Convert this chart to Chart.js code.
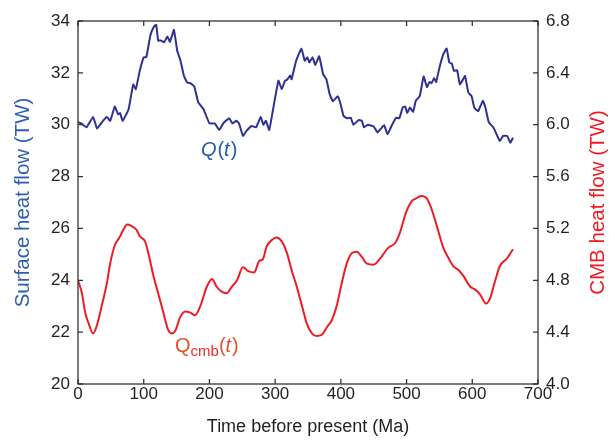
<!DOCTYPE html>
<html>
<head>
<meta charset="utf-8">
<script src="https://cdn.jsdelivr.net/npm/chart.js@4/dist/chart.umd.min.js"></script>
<style>
  html, body { margin: 0; padding: 0; background: #fff; }
  #wrap { width: 615px; height: 443px; position: relative; }
</style>
</head>
<body>
<div id="wrap"><canvas id="heat"></canvas></div>
<script>
// surface heat flow Q(t), left axis (TW)
const surfaceTime = [0, 5, 13, 23, 29, 38, 44, 49, 56, 61, 64, 68, 77, 84, 88, 94, 100, 104, 110, 115, 119, 122, 126, 131, 136, 140, 146, 151, 156, 161, 166, 171, 177, 183, 191, 200, 208, 215, 221, 230, 235, 241, 245, 251, 256, 264, 271, 278, 282, 286, 291, 296, 305, 310, 315, 318, 323, 325, 332, 340, 345, 349, 352, 357, 361, 367, 373, 378, 383, 388, 395, 399, 404, 409, 415, 419, 427, 432, 435, 441, 450, 456, 461, 466, 471, 478, 484, 489, 494, 498, 501, 505, 510, 514, 520, 526, 531, 535, 538, 542, 545, 550, 556, 561, 565, 569, 572, 577, 581, 586, 589, 594, 599, 603, 609, 616, 620, 625, 632, 637, 642, 647, 653, 658, 662];
const surfaceFlow = [30.1, 30.05, 29.9, 30.3, 29.85, 30.15, 30.3, 30.15, 30.7, 30.4, 30.45, 30.15, 30.6, 31.55, 31.37, 32.08, 32.6, 32.6, 33.43, 33.76, 33.85, 33.24, 33.25, 33.18, 33.4, 33.2, 33.66, 32.85, 32.47, 31.9, 31.63, 31.6, 31.47, 30.86, 30.6, 30.05, 30.05, 29.8, 30.05, 30.25, 30.05, 30.15, 30.05, 29.57, 29.75, 29.95, 29.9, 30.3, 30.0, 30.15, 29.8, 30.47, 31.7, 31.37, 31.7, 31.73, 31.9, 31.75, 32.47, 32.94, 32.47, 32.6, 32.4, 32.6, 32.3, 32.64, 31.95, 31.75, 31.18, 30.9, 31.1, 30.86, 30.34, 30.25, 30.27, 30.0, 30.18, 30.15, 29.9, 30.0, 29.93, 29.7, 29.85, 29.98, 29.63, 30.0, 30.27, 30.25, 30.66, 30.7, 30.45, 30.66, 30.5, 30.92, 31.1, 31.86, 31.45, 31.65, 31.6, 31.8, 31.65, 32.2, 32.72, 32.94, 32.4, 32.35, 32.08, 32.1, 31.56, 31.75, 31.88, 31.24, 31.1, 30.66, 30.52, 30.92, 30.66, 30.1, 29.9, 29.63, 29.37, 29.57, 29.57, 29.3, 29.5];

// core-mantle boundary heat flow Qcmb(t), right axis (TW)
const cmbTime = [0, 6, 11, 16, 23, 28, 36, 44, 49, 56, 63, 69, 75, 81, 89, 94, 102, 107, 115, 122, 130, 137, 143, 148, 155, 163, 171, 178, 186, 196, 204, 211, 219, 226, 234, 242, 251, 259, 268, 276, 281, 287, 295, 302, 310, 318, 325, 333, 341, 348, 356, 363, 371, 379, 386, 394, 401, 409, 417, 424, 432, 439, 450, 460, 472, 483, 490, 499, 508, 514, 522, 531, 538, 546, 556, 564, 571, 579, 587, 597, 604, 612, 621, 627, 635, 642, 653, 662];
const cmbFlow = [4.80, 4.70, 4.55, 4.47, 4.39, 4.44, 4.60, 4.78, 4.93, 5.07, 5.13, 5.19, 5.23, 5.22, 5.19, 5.14, 5.10, 5.01, 4.83, 4.70, 4.55, 4.42, 4.39, 4.41, 4.51, 4.56, 4.55, 4.53, 4.60, 4.75, 4.81, 4.75, 4.71, 4.70, 4.75, 4.80, 4.90, 4.87, 4.86, 4.95, 4.96, 5.06, 5.11, 5.13, 5.10, 5.01, 4.88, 4.75, 4.60, 4.47, 4.39, 4.37, 4.38, 4.44, 4.49, 4.61, 4.77, 4.93, 5.01, 5.02, 4.98, 4.93, 4.92, 4.97, 5.05, 5.09, 5.17, 5.32, 5.41, 5.43, 5.45, 5.43, 5.35, 5.22, 5.05, 4.97, 4.91, 4.88, 4.83, 4.75, 4.73, 4.69, 4.62, 4.66, 4.80, 4.91, 4.97, 5.04];

const FONT = '"Liberation Sans", Arial, Helvetica, sans-serif';
const INK = '#231f20';
Chart.defaults.font.family = FONT;

function toPoints(xs, ys) {
	return xs.map((x, i) => ({ x: x, y: ys[i] }));
}

// closed box with inward ticks, right title read upwards, curve labels
const framePlugin = {
	id: 'frame',
	afterDatasetsDraw(chart) {
		const { ctx, chartArea: a, scales } = chart;
		const len = 5;
		ctx.save();
		ctx.strokeStyle = '#333';
		ctx.lineWidth = 1.3;
		ctx.strokeRect(a.left, a.top, a.right - a.left, a.bottom - a.top);
		ctx.beginPath();
		scales.x.ticks.forEach((t) => {
			const px = scales.x.getPixelForValue(t.value);
			ctx.moveTo(px, a.bottom);
			ctx.lineTo(px, a.bottom - len);
			ctx.moveTo(px, a.top);
			ctx.lineTo(px, a.top + len);
		});
		scales.y.ticks.forEach((t) => {
			const py = scales.y.getPixelForValue(t.value);
			ctx.moveTo(a.left, py);
			ctx.lineTo(a.left + len, py);
		});
		scales.y1.ticks.forEach((t) => {
			const py = scales.y1.getPixelForValue(t.value);
			ctx.moveTo(a.right, py);
			ctx.lineTo(a.right - len, py);
		});
		ctx.stroke();

		// right axis title
		ctx.save();
		ctx.translate(scales.y1.right - 17, (a.top + a.bottom) / 2);
		ctx.rotate(-Math.PI / 2);
		ctx.textAlign = 'center';
		ctx.textBaseline = 'middle';
		ctx.fillStyle = '#ed1c24';
		ctx.font = '20.5px ' + FONT;
		ctx.fillText('CMB heat flow (TW)', 0, 0);
		ctx.restore();

		ctx.textBaseline = 'alphabetic';
		ctx.textAlign = 'left';
		// Q(t)
		let x = scales.x.getPixelForValue(187);
		let y = scales.y.getPixelForValue(28.78);
		ctx.fillStyle = '#1f5ea8';
		ctx.font = 'italic 20px ' + FONT;
		ctx.fillText('Q', x, y);
		x += ctx.measureText('Q').width + 1;
		ctx.font = '20px ' + FONT;
		ctx.fillText('(', x, y);
		x += ctx.measureText('(').width;
		ctx.font = 'italic 20px ' + FONT;
		ctx.fillText('t', x, y);
		x += ctx.measureText('t').width + 1;
		ctx.font = '20px ' + FONT;
		ctx.fillText(')', x, y);

		// Qcmb(t)
		x = scales.x.getPixelForValue(147.6);
		y = scales.y.getPixelForValue(21.24);
		ctx.fillStyle = '#e2542a';
		ctx.font = '20px ' + FONT;
		ctx.fillText('Q', x, y);
		x += ctx.measureText('Q').width;
		ctx.fillStyle = '#ea2a2c';
		ctx.font = '15px ' + FONT;
		ctx.fillText('cmb', x, y + 4);
		x += ctx.measureText('cmb').width;
		ctx.fillStyle = '#e2542a';
		ctx.font = '20px ' + FONT;
		ctx.fillText('(', x, y);
		x += ctx.measureText('(').width;
		ctx.font = 'italic 20px ' + FONT;
		ctx.fillText('t', x, y);
		x += ctx.measureText('t').width + 1;
		ctx.font = '20px ' + FONT;
		ctx.fillText(')', x, y);
		ctx.restore();
	},
};

new Chart(document.getElementById('heat'), {
	type: 'line',
	data: {
		datasets: [
			{
				label: 'Q(t)',
				data: toPoints(surfaceTime, surfaceFlow),
				yAxisID: 'y',
				borderColor: '#2e3192',
				borderWidth: 2,
				pointRadius: 0,
				tension: 0.1,
			},
			{
				label: 'Qcmb(t)',
				data: toPoints(cmbTime, cmbFlow),
				yAxisID: 'y1',
				borderColor: '#ed1c24',
				borderWidth: 2,
				pointRadius: 0,
				cubicInterpolationMode: 'monotone',
			},
		],
	},
	options: {
		responsive: true,
		maintainAspectRatio: false,
		animation: false,
		layout: { padding: { top: 21, left: 0, right: 0, bottom: 0 } },
		plugins: { legend: { display: false }, tooltip: { enabled: false } },
		scales: {
			x: {
				type: 'linear',
				min: 0,
				max: 700,
				grid: { display: false, drawTicks: false },
				border: { display: false },
				ticks: { stepSize: 100, color: INK, font: { size: 17 }, padding: 0, maxRotation: 0 },
				title: {
					display: true,
					text: 'Time before present (Ma)',
					color: INK,
					font: { size: 18 },
					padding: { top: 0, bottom: 5 },
				},
				afterFit: (scale) => { scale.height = 59; },
			},
			y: {
				position: 'left',
				min: 20,
				max: 34,
				grid: { display: false, drawTicks: false },
				border: { display: false },
				ticks: { stepSize: 2, color: INK, font: { size: 17 }, padding: 8 },
				title: {
					display: true,
					text: 'Surface heat flow (TW)',
					color: '#2f5fac',
					font: { size: 20.5 },
					padding: { top: 11, bottom: 0 },
				},
				afterFit: (scale) => { scale.width = 78; },
			},
			y1: {
				position: 'right',
				min: 4.0,
				max: 6.8,
				grid: { display: false, drawTicks: false },
				border: { display: false },
				ticks: {
					stepSize: 0.4,
					color: INK,
					font: { size: 17 },
					padding: 8,
					callback: (v) => Number(v).toFixed(1),
				},
				title: { display: false },
				afterFit: (scale) => { scale.width = 77; },
			},
		},
	},
	plugins: [framePlugin],
});
</script>
</body>
</html>
